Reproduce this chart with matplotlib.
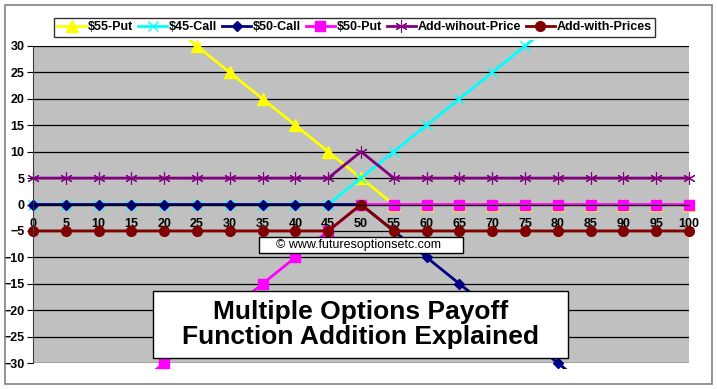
import matplotlib.pyplot as plt
from matplotlib.patches import Rectangle
from matplotlib.transforms import Bbox, TransformedBbox

plt.rcParams['font.family'] = ['Liberation Sans', 'DejaVu Sans']

# Underlying price at expiry (category axis)
prices = [0, 5, 10, 15, 20, 25, 30, 35, 40, 45, 50, 55, 60, 65, 70, 75, 80, 85, 90, 95, 100]

# Payoffs
put55 = [55, 50, 45, 40, 35, 30, 25, 20, 15, 10, 5, 0, 0, 0, 0, 0, 0, 0, 0, 0, 0]
call45 = [0, 0, 0, 0, 0, 0, 0, 0, 0, 0, 5, 10, 15, 20, 25, 30, 35, 40, 45, 50, 55]
call50 = [0, 0, 0, 0, 0, 0, 0, 0, 0, 0, 0, -5, -10, -15, -20, -25, -30, -35, -40, -45, -50]
put50 = [-50, -45, -40, -35, -30, -25, -20, -15, -10, -5, 0, 0, 0, 0, 0, 0, 0, 0, 0, 0, 0]
add_without = [5, 5, 5, 5, 5, 5, 5, 5, 5, 5, 10, 5, 5, 5, 5, 5, 5, 5, 5, 5, 5]
add_with = [-5, -5, -5, -5, -5, -5, -5, -5, -5, -5, 0, -5, -5, -5, -5, -5, -5, -5, -5, -5, -5]

series = [
    ('$55-Put', put55, '#FFFF00', '^', 8, 1),
    ('$45-Call', call45, '#00FFFF', 'x', 7, 1),
    ('$50-Call', call50, '#000080', 'D', 5.5, 1),
    ('$50-Put', put50, '#FF00FF', 's', 7, 1),
    ('Add-wihout-Price', add_without, '#800080', (6, 2, 0), 9, 0.8),
    ('Add-with-Prices', add_with, '#800000', 'o', 7, 1),
]

fig = plt.figure(figsize=(7.17, 3.89), dpi=100)
ax = fig.add_axes([33 / 717, 26 / 389, 656 / 717, 317 / 389])
ax.set_facecolor('#C0C0C0')

clip = TransformedBbox(Bbox([[-0.012, -0.02], [1.012, 1.02]]), ax.transAxes)
for name, vals, color, marker, ms, mew in series:
    ln, = ax.plot(prices, vals, color=color, lw=2, marker=marker, markersize=ms,
                  markeredgewidth=mew, markerfacecolor=color, markeredgecolor=color, label=name)
    ln.set_clip_box(clip)

ax.set_xlim(0, 100)
ax.set_ylim(-30, 30)
ax.set_yticks(range(-30, 31, 5))
ax.set_xticks(prices)
ax.set_xticklabels([str(p) for p in prices])
ax.yaxis.grid(True, color='black', lw=0.9)
ax.set_axisbelow(True)

ax.spines['bottom'].set_position(('data', 0))
ax.spines['bottom'].set_color('black')
ax.spines['top'].set_visible(False)
ax.spines['right'].set_visible(False)
ax.spines['left'].set_color('#404040')
ax.tick_params(axis='x', length=0, pad=10, labelsize=9)
ax.tick_params(axis='y', length=4, pad=2, labelsize=9)
for lbl in ax.get_xticklabels() + ax.get_yticklabels():
    lbl.set_fontweight('bold')

leg = fig.legend(loc='center', bbox_to_anchor=(354.5 / 717, 1 - 27.5 / 389), ncol=6,
                 prop={'size': 9, 'weight': 'bold'}, frameon=True, fancybox=False,
                 handlelength=2.3, handletextpad=0.15, columnspacing=0.4,
                 borderpad=0.25, borderaxespad=0, edgecolor='black')
leg.get_frame().set_linewidth(1)

# outer chart border
fig.patches.append(Rectangle((5 / 717, 5 / 389), 707 / 717, 379 / 389, transform=fig.transFigure,
                             fill=False, edgecolor='#808080', lw=1.2))

# copyright box
fig.patches.append(Rectangle((259 / 717, 1 - 253 / 389), 204 / 717, 16 / 389, transform=fig.transFigure,
                             facecolor='white', edgecolor='black', lw=1, zorder=5))
fig.text(358 / 717, 1 - 245.5 / 389, '\u00a9 www.futuresoptionsetc.com', ha='center', va='center',
         fontsize=9, zorder=6)

# title box
fig.patches.append(Rectangle((153 / 717, 1 - 358 / 389), 415 / 717, 67 / 389, transform=fig.transFigure,
                             facecolor='white', edgecolor='black', lw=1, zorder=5))
fig.text(360.5 / 717, 1 - 324.5 / 389, 'Multiple Options Payoff\nFunction Addition Explained',
         ha='center', va='center', fontsize=19, fontweight='bold', linespacing=1.1, zorder=6)

fig.savefig('out.png', dpi=100)
